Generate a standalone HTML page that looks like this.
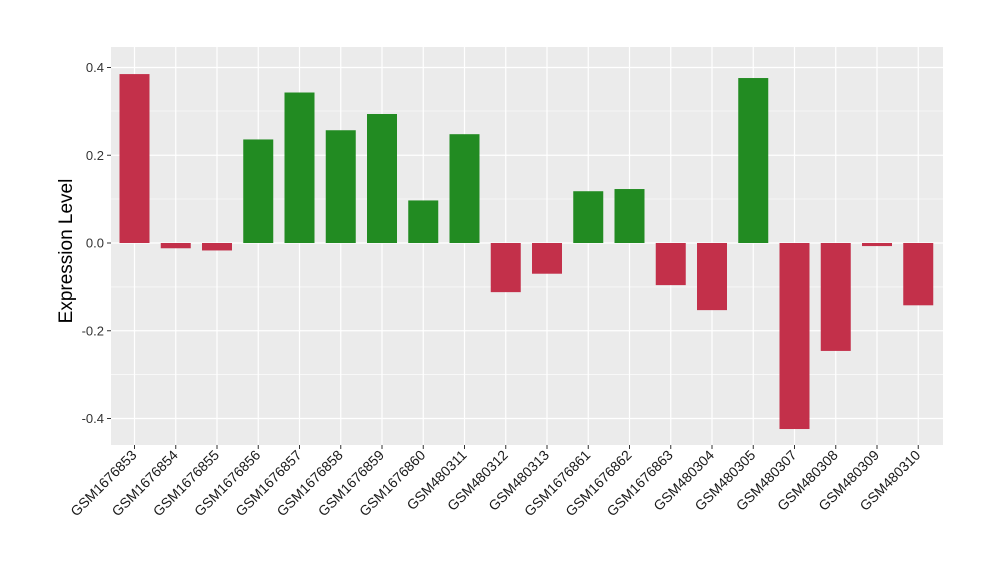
<!DOCTYPE html>
<html><head><style>body{margin:0;background:#fff}svg{display:block}</style></head><body>
<svg width="1000" height="580" xmlns="http://www.w3.org/2000/svg" font-family="Liberation Sans, Arial, sans-serif">
<rect x="111" y="47" width="832" height="398" fill="#EBEBEB"/>
<g stroke="#fff" stroke-width="0.6">
<line x1="111" x2="943" y1="111" y2="111"/><line x1="111" x2="943" y1="199" y2="199"/>
<line x1="111" x2="943" y1="286.9" y2="286.9"/><line x1="111" x2="943" y1="374.6" y2="374.6"/>
</g>
<g stroke="#fff" stroke-width="1.2" id="grid"></g>
<g id="bars"></g>
<g id="ylab" font-size="13" fill="#333" text-anchor="end"></g>
<g id="xlab" font-size="14" fill="#1a1a1a" text-anchor="end"></g>
<text transform="translate(72,251) rotate(-90)" text-anchor="middle" font-size="19" fill="#000">Expression Level</text>
<script>
(function(){
var ns="http://www.w3.org/2000/svg";
function el(p,t,a,txt){var e=document.createElementNS(ns,t);for(var k in a)e.setAttribute(k,a[k]);if(txt)e.textContent=txt;document.getElementById(p).appendChild(e);}
var y0=243,s=438.75;
[0.4,0.2,0,-0.2,-0.4].forEach(function(v){var y=y0-v*s;el('grid','line',{x1:111,x2:943,y1:y,y2:y});
el('ylab','text',{x:104,y:y+4.5},v==0?'0.0':v.toFixed(1));
el('ylab','line',{x1:107,x2:111,y1:y,y2:y,stroke:'#333'});});
var names=["GSM1676853","GSM1676854","GSM1676855","GSM1676856","GSM1676857","GSM1676858","GSM1676859","GSM1676860","GSM480311","GSM480312","GSM480313","GSM1676861","GSM1676862","GSM1676863","GSM480304","GSM480305","GSM480307","GSM480308","GSM480309","GSM480310"];
var vals=[0.385,-0.012,-0.017,0.236,0.343,0.257,0.294,0.097,0.248,-0.112,-0.07,0.118,0.123,-0.096,-0.153,0.376,-0.424,-0.246,-0.007,-0.142];
var cols=['r','r','r','g','g','g','g','g','g','r','r','g','g','r','r','g','r','r','r','r'];
for(var i=0;i<20;i++){var x=134.5+i*41.25;
el('grid','line',{x1:x,x2:x,y1:47,y2:445});
var v=vals[i],by=v>0?y0-v*s:y0,h=Math.abs(v)*s;
el('bars','rect',{x:x-15,y:by,width:30,height:h,fill:cols[i]=='r'?'#C3304A':'#228B22'});
el('ylab','line',{x1:x,x2:x,y1:445,y2:449,stroke:'#333'});
el('xlab','text',{transform:'translate('+(x+3)+',456) rotate(-45)'},names[i]);}
})();
</script>
</svg>
</body></html>
